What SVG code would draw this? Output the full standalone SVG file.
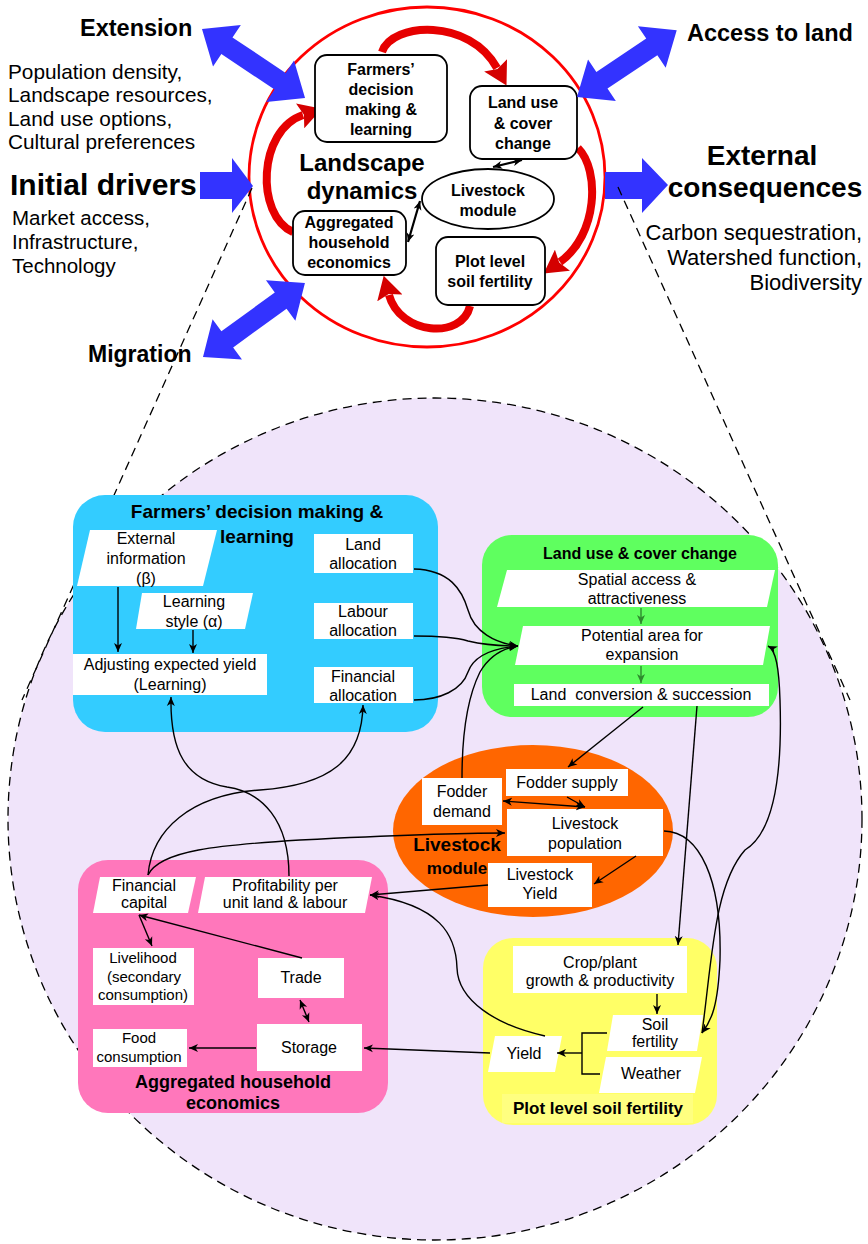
<svg xmlns="http://www.w3.org/2000/svg" width="868" height="1244" viewBox="0 0 868 1244">
<defs>
<style>
.t{font-family:"Liberation Sans",Arial,sans-serif;fill:#000}
.b{font-weight:bold}
.m{text-anchor:middle}
.r{text-anchor:end}
.c{stroke:#000;stroke-width:1.4;fill:none}
.c2{stroke:#000;stroke-width:2.2;fill:none}
.g{stroke:#2E8B2E;stroke-width:1.4;fill:none}
.w{fill:#fff}
.blue{fill:#3333FF}
.red{fill:none;stroke:#E60000;stroke-width:8}
.nb{fill:#fff;stroke:#000;stroke-width:1.8}
.dash{fill:none;stroke:#000;stroke-width:1.3;stroke-dasharray:9,6}
.lilac{fill:#F0E4FA;stroke:#000;stroke-width:1.3;stroke-dasharray:9,6}
</style>
<marker id="ah" markerUnits="userSpaceOnUse" markerWidth="10" markerHeight="10" refX="9" refY="5" orient="auto-start-reverse"><path d="M0,1 L9,5 L0,9 L2.5,5 Z" fill="#000"/></marker>
<marker id="ahg" markerUnits="userSpaceOnUse" markerWidth="10" markerHeight="10" refX="9" refY="5" orient="auto"><path d="M0,1 L9,5 L0,9 L2.5,5 Z" fill="#2E8B2E"/></marker>
<marker id="rh" markerUnits="userSpaceOnUse" markerWidth="26" markerHeight="26" refX="3" refY="13" orient="auto"><path d="M0,0 L23,13 L0,26 L4,13 Z" fill="#D40000"/></marker>
</defs>

<!-- Top section -->
<g id="landscape-circle">
<ellipse cx="427" cy="177" rx="178" ry="170" fill="#fff" stroke="#FF0000" stroke-width="2.8"/>
<text class="t b m" x="362" y="171" font-size="24">Landscape</text>
<text class="t b m" x="362" y="199" font-size="24">dynamics</text>
</g>

<g id="red-cycle">
<path class="red" d="M382,52 C392,22 470,18 497,68" marker-end="url(#rh)"/>
<path class="red" d="M578,148 C600,170 598,235 560,262" marker-end="url(#rh)"/>
<path class="red" d="M470,306 C462,340 400,335 389,295" marker-end="url(#rh)"/>
<path class="red" d="M293,232 C255,215 258,130 303,115" marker-end="url(#rh)"/>
</g>

<g id="top-farmers">
<rect class="nb" x="315" y="55" width="132" height="87" rx="12"/>
<text class="t b m" x="381" y="75" font-size="16">Farmers’</text>
<text class="t b m" x="381" y="95" font-size="16">decision</text>
<text class="t b m" x="381" y="115" font-size="16">making &amp;</text>
<text class="t b m" x="381" y="135" font-size="16">learning</text>
</g>
<g id="top-landuse">
<rect class="nb" x="470" y="86" width="107" height="73" rx="12"/>
<text class="t b m" x="523" y="108" font-size="16">Land use</text>
<text class="t b m" x="523" y="129" font-size="16">&amp; cover</text>
<text class="t b m" x="523" y="149" font-size="16">change</text>
</g>
<g id="top-livestock">
<ellipse class="nb" cx="488" cy="199" rx="66" ry="30"/>
<text class="t b m" x="488" y="196" font-size="16">Livestock</text>
<text class="t b m" x="488" y="216" font-size="16">module</text>
</g>
<g id="top-household">
<rect class="nb" x="293" y="211" width="113" height="64" rx="12"/>
<text class="t b m" x="349" y="228" font-size="16">Aggregated</text>
<text class="t b m" x="349" y="248" font-size="16">household</text>
<text class="t b m" x="349" y="268" font-size="16">economics</text>
</g>
<g id="top-plot">
<rect class="nb" x="436" y="237" width="109" height="68" rx="12"/>
<text class="t b m" x="490" y="267" font-size="16">Plot level</text>
<text class="t b m" x="490" y="287" font-size="16">soil fertility</text>
</g>

<g id="top-connectors">
<path class="c2" d="M493,167 L522,160" marker-start="url(#ah)" marker-end="url(#ah)"/>
<path class="c2" d="M408,242 L420,201" marker-start="url(#ah)" marker-end="url(#ah)"/>
</g>

<g id="blue-arrows">
<polygon class="blue" transform="translate(202,29) rotate(33.8)" points="0,0 30,-25 30,-10 94,-10 94,-25 124,0 94,25 94,10 30,10 30,25"/>
<polygon class="blue" transform="translate(577,97) rotate(-33.8)" points="0,0 30,-25 30,-10 90,-10 90,-25 120,0 90,25 90,10 30,10 30,25"/>
<polygon class="blue" transform="translate(203,357) rotate(-36)" points="0,0 30,-25 30,-10 96,-10 96,-25 126,0 96,25 96,10 30,10 30,25"/>
<polygon class="blue" points="200,172 232,172 232,158 253,186 232,213 232,199 200,199"/>
<polygon class="blue" points="605,172 642,172 642,158 668,185 642,213 642,199 605,199"/>
</g>

<g id="side-labels">
<text class="t b" x="80" y="36" font-size="23.5">Extension</text>
<text class="t" x="8" y="79" font-size="20.8">Population density,</text>
<text class="t" x="8" y="102" font-size="20.8">Landscape resources,</text>
<text class="t" x="8" y="126" font-size="20.8">Land use options,</text>
<text class="t" x="8" y="149" font-size="20.8">Cultural preferences</text>
<text class="t b" x="10" y="195" font-size="30">Initial drivers</text>
<text class="t" x="12" y="225" font-size="20.5">Market access,</text>
<text class="t" x="12" y="249" font-size="20.5">Infrastructure,</text>
<text class="t" x="12" y="273" font-size="20.5">Technology</text>
<text class="t b" x="88" y="362" font-size="23">Migration</text>
<text class="t b" x="687" y="41" font-size="23.5">Access to land</text>
<text class="t b m" x="762" y="165" font-size="28">External</text>
<text class="t b m" x="765" y="197" font-size="28">consequences</text>
<text class="t r" x="862" y="240" font-size="22">Carbon sequestration,</text>
<text class="t r" x="862" y="265" font-size="22">Watershed function,</text>
<text class="t r" x="862" y="290" font-size="22">Biodiversity</text>
</g>

<!-- Bottom zoomed view -->
<g id="zoom-circle">
<ellipse class="lilac" cx="435" cy="819" rx="427" ry="421"/>
<path class="dash" d="M252,188 L22,700"/>
<path class="dash" d="M618,187 L850,700"/>
</g>

<g id="farmers-panel">
<rect x="73" y="495" width="365" height="237" rx="32" fill="#33CCFF"/>
<polygon class="w" points="90,530 217,530 203,586 77,586"/>
<text class="t m" x="146" y="544" font-size="16">External</text>
<text class="t m" x="146" y="564" font-size="16">information</text>
<text class="t m" x="146" y="584" font-size="16">(β)</text>
<polygon class="w" points="142,593 253,593 245,629 136,629"/>
<text class="t m" x="194" y="607" font-size="16">Learning</text>
<text class="t m" x="194" y="627" font-size="16">style (α)</text>
<rect class="w" x="73" y="654" width="194" height="41"/>
<text class="t m" x="170" y="670" font-size="16">Adjusting expected yield</text>
<text class="t m" x="170" y="690" font-size="16">(Learning)</text>
<rect class="w" x="314" y="534" width="99" height="39"/>
<text class="t m" x="363" y="550" font-size="16">Land</text>
<text class="t m" x="363" y="569" font-size="16">allocation</text>
<rect class="w" x="314" y="603" width="99" height="36"/>
<text class="t m" x="363" y="617" font-size="16">Labour</text>
<text class="t m" x="363" y="636" font-size="16">allocation</text>
<rect class="w" x="314" y="667" width="99" height="36"/>
<text class="t m" x="363" y="682" font-size="16">Financial</text>
<text class="t m" x="363" y="701" font-size="16">allocation</text>
<text class="t b m" x="257" y="518" font-size="19">Farmers’ decision making &amp;</text>
<text class="t b m" x="257" y="543" font-size="19">learning</text>
</g>

<g id="landuse-panel">
<rect x="482" y="535" width="296" height="182" rx="30" fill="#5FFF5F"/>
<text class="t b m" x="640" y="559" font-size="16">Land use &amp; cover change</text>
<polygon class="w" points="507,570 775,570 767,607 497,607"/>
<text class="t m" x="637" y="585" font-size="16">Spatial access &amp;</text>
<text class="t m" x="637" y="604" font-size="16">attractiveness</text>
<polygon class="w" points="523,626 770,626 763,665 515,665"/>
<text class="t m" x="642" y="641" font-size="16">Potential area for</text>
<text class="t m" x="642" y="660" font-size="16">expansion</text>
<rect class="w" x="514" y="684" width="255" height="22"/>
<text class="t m" x="641" y="700" font-size="16" xml:space="preserve">Land  conversion &amp; succession</text>
<path class="g" d="M641,608 L641,624" marker-end="url(#ahg)"/>
<path class="g" d="M641,666 L641,683" marker-end="url(#ahg)"/>
</g>

<g id="livestock-panel">
<ellipse cx="533" cy="831" rx="140" ry="86" fill="#FF6600"/>
<rect class="w" x="422" y="778" width="80" height="47"/>
<text class="t m" x="462" y="797" font-size="16">Fodder</text>
<text class="t m" x="462" y="817" font-size="16">demand</text>
<rect class="w" x="506" y="769" width="122" height="27"/>
<text class="t m" x="567" y="788" font-size="16">Fodder supply</text>
<rect class="w" x="507" y="809" width="156" height="47"/>
<text class="t m" x="585" y="829" font-size="16">Livestock</text>
<text class="t m" x="585" y="849" font-size="16">population</text>
<rect class="w" x="488" y="863" width="104" height="44"/>
<text class="t m" x="540" y="880" font-size="16">Livestock</text>
<text class="t m" x="540" y="899" font-size="16">Yield</text>
<text class="t b m" x="457" y="851" font-size="19">Livestock</text>
<text class="t b m" x="457" y="874" font-size="17">module</text>
</g>

<g id="household-panel">
<rect x="78" y="860" width="310" height="253" rx="30" fill="#FF77BB"/>
<polygon class="w" points="100,877 196,877 188,913 93,913"/>
<text class="t m" x="144" y="891" font-size="16">Financial</text>
<text class="t m" x="144" y="908" font-size="16">capital</text>
<polygon class="w" points="205,877 372,877 365,913 198,913"/>
<text class="t m" x="285" y="891" font-size="16">Profitability per</text>
<text class="t m" x="285" y="908" font-size="16">unit land &amp; labour</text>
<rect class="w" x="93" y="948" width="101" height="57"/>
<text class="t m" x="143" y="963" font-size="15">Livelihood</text>
<text class="t m" x="144" y="982" font-size="15">(secondary</text>
<text class="t m" x="143" y="1000" font-size="15">consumption)</text>
<rect class="w" x="258" y="958" width="86" height="40"/>
<text class="t m" x="301" y="983" font-size="16">Trade</text>
<rect class="w" x="257" y="1024" width="105" height="47"/>
<text class="t m" x="309" y="1053" font-size="16">Storage</text>
<rect class="w" x="93" y="1029" width="94" height="38"/>
<text class="t m" x="139" y="1043" font-size="15">Food</text>
<text class="t m" x="139" y="1062" font-size="15">consumption</text>
<text class="t b m" x="233" y="1088" font-size="18">Aggregated household</text>
<text class="t b m" x="233" y="1109" font-size="18">economics</text>
</g>

<g id="plot-panel">
<rect x="483" y="938" width="234" height="187" rx="30" fill="#FFFF66"/>
<rect class="w" x="513" y="946" width="174" height="47"/>
<text class="t m" x="600" y="968" font-size="16">Crop/plant</text>
<text class="t m" x="600" y="986" font-size="16">growth &amp; productivity</text>
<polygon class="w" points="613,1015 703,1015 697,1051 607,1051"/>
<text class="t m" x="655" y="1030" font-size="16">Soil</text>
<text class="t m" x="655" y="1047" font-size="16">fertility</text>
<polygon class="w" points="606,1057 702,1057 695,1093 599,1093"/>
<text class="t m" x="651" y="1079" font-size="16">Weather</text>
<polygon class="w" points="495,1036 562,1036 555,1072 488,1072"/>
<text class="t m" x="524" y="1059" font-size="16">Yield</text>
<rect x="502" y="1094" width="191" height="29" fill="#FFFF80"/>
<text class="t b m" x="598" y="1114" font-size="17">Plot level soil fertility</text>
</g>

<g id="connectors">
<path class="c" d="M118,587 L118,652" marker-end="url(#ah)"/>
<path class="c" d="M193,630 L193,653" marker-end="url(#ah)"/>
<path class="c" d="M414,569 C450,570 462,590 468,610 C474,632 495,643 518,646" marker-end="url(#ah)"/>
<path class="c" d="M414,636 C440,636 455,637 468,641 C485,645 500,646 518,646" marker-end="url(#ah)"/>
<path class="c" d="M414,700 C440,700 462,690 468,672 C474,655 495,648 518,646" marker-end="url(#ah)"/>
<path class="c" d="M462,778 C462,740 466,700 480,672 C490,655 505,648 518,646" marker-end="url(#ah)"/>
<path class="c" d="M643,707 L568,767" marker-end="url(#ah)"/>
<path class="c" d="M503,801 L585,807" marker-start="url(#ah)" marker-end="url(#ah)"/>
<path class="c" d="M567,797 L585,807" marker-end="url(#ah)"/>
<path class="c" d="M636,856 L594,884" marker-end="url(#ah)"/>
<path class="c" d="M488,885 L370,895" marker-end="url(#ah)"/>
<path class="c" d="M148,875 C160,850 220,845 300,840 C400,835 460,833 505,833" marker-end="url(#ah)"/>
<path class="c" d="M148,875 C152,830 190,795 260,790 C330,785 362,760 363,705" marker-end="url(#ah)"/>
<path class="c" d="M289,876 C289,820 262,792 227,787 C185,780 170,750 171,697" marker-end="url(#ah)"/>
<path class="c" d="M545,1036 C495,1025 458,1000 457,968 C456,935 440,905 370,895" marker-end="url(#ah)"/>
<path class="c" d="M490,1053 L364,1048" marker-end="url(#ah)"/>
<path class="c" d="M657,994 L657,1014" marker-end="url(#ah)"/>
<path class="c" d="M607,1033 L582,1033 L582,1074 L600,1074"/>
<path class="c" d="M582,1053 L557,1053" marker-end="url(#ah)"/>
<path class="c" d="M697,706 L678,945" marker-end="url(#ah)"/>
<path class="c" d="M664,831 C700,832 722,880 720,960 C718,1005 712,1020 702,1033" marker-end="url(#ah)"/>
<path class="c" d="M702,1033 C712,960 714,885 745,850 C778,830 782,760 780,700 C779,668 776,650 768,646" marker-end="url(#ah)"/>
<path class="c" d="M302,958 L139,915" marker-end="url(#ah)"/>
<path class="c" d="M139,915 L152,946" marker-end="url(#ah)"/>
<path class="c" d="M300,1000 L309,1022" marker-start="url(#ah)" marker-end="url(#ah)"/>
<path class="c" d="M256,1048 L189,1048" marker-end="url(#ah)"/>
</g>
</svg>
